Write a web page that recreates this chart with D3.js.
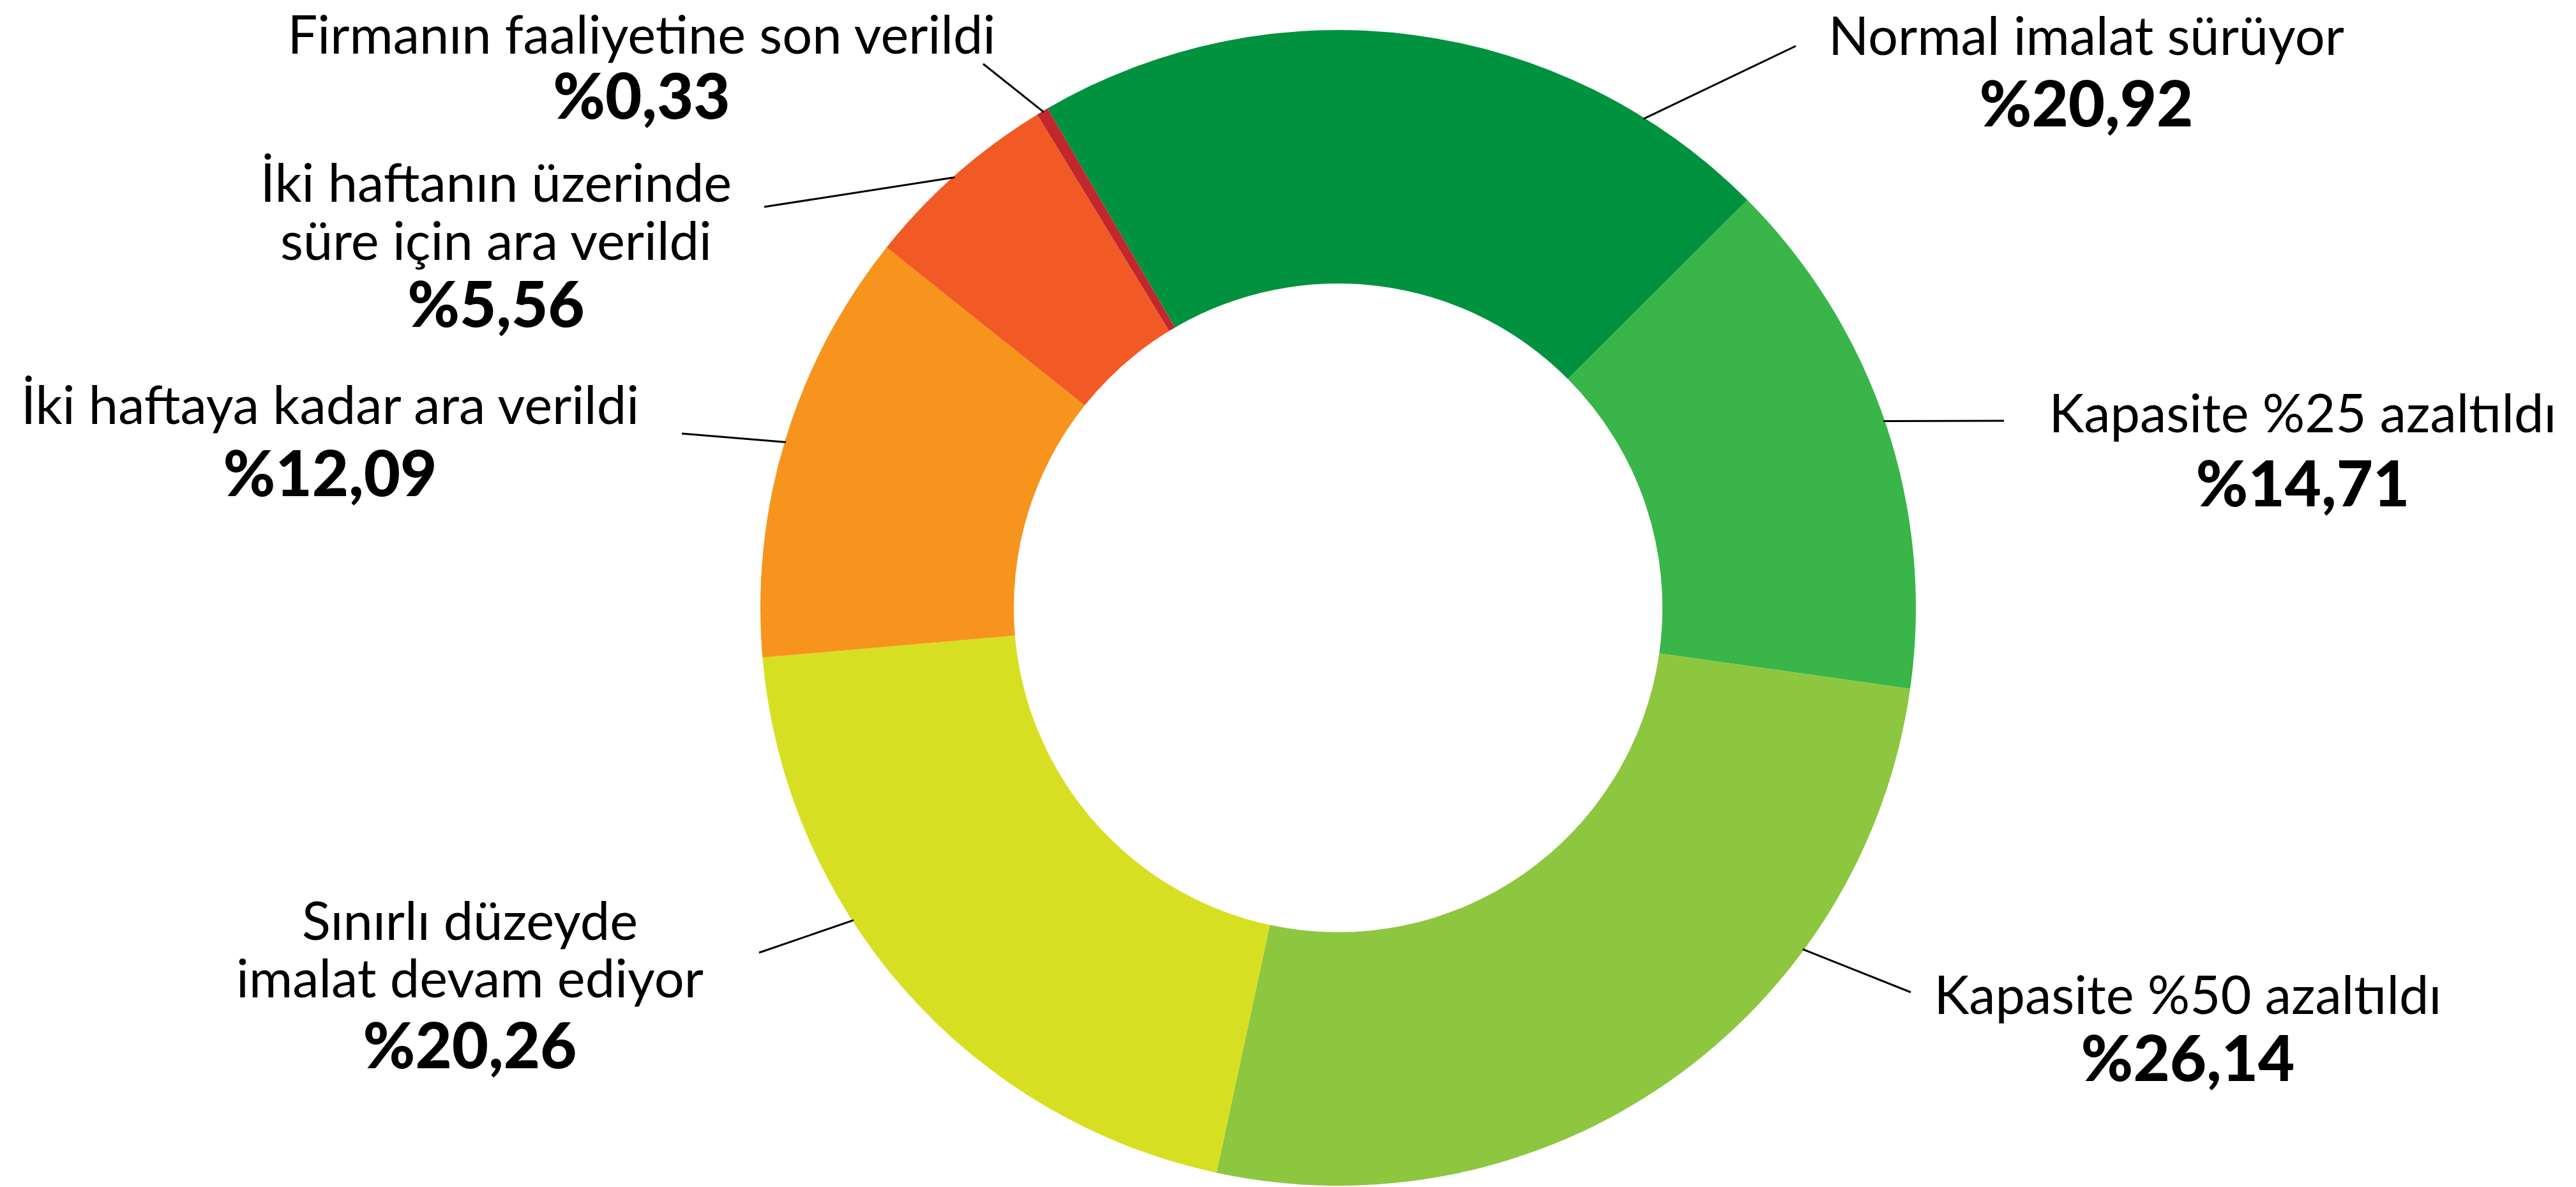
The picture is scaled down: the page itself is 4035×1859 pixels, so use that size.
<!DOCTYPE html>
<html>
<head>
<meta charset="utf-8">
<script src="https://cdn.jsdelivr.net/npm/d3@7"></script>
<style>
  html, body { margin: 0; padding: 0; background: #fff; }
  svg { display: block; }
  text { font-family: Lato, "Open Sans", sans-serif; fill: #000; }
</style>
</head>
<body>
<div id="chart"></div>
<script>
const width = 4035
const height = 1859

// data (clockwise from the top-right)
const categories = [
  "Normal imalat sürüyor",
  "Kapasite %25 azaltıldı",
  "Kapasite %50 azaltıldı",
  "Sınırlı düzeyde imalat devam ediyor",
  "İki haftaya kadar ara verildi",
  "İki haftanın üzerinde süre için ara verildi",
  "Firmanın faaliyetine son verildi",
]
const values = [20.92, 14.71, 26.14, 20.26, 12.09, 5.56, 0.33]
const colors = ["#00923f", "#39b54a", "#8dc63f", "#d7df23", "#f7941d", "#f15a24", "#c1272d"]

// label layout: text lines, anchor x, baselines, leader line (angle on the ring, outer end)
const labelLines = [
  ["Normal imalat sürüyor"],
  ["Kapasite %25 azaltıldı"],
  ["Kapasite %50 azaltıldı"],
  ["Sınırlı düzeyde", "imalat devam ediyor"],
  ["İki haftaya kadar ara verildi"],
  ["İki haftanın üzerinde", "süre için ara verildi"],
  ["Firmanın faaliyetine son verildi"],
]
const labelX = [3268, 3607, 3427, 736, 517, 777, 1005]
const labelY = [[86], [677], [1588], [1472, 1562], [664], [316, 407], [84]]
const pctY = [198, 793, 1693, 1673, 777, 512, 186]
const leaderAngle = [32.0, 71.1, 126.3, 237.2, 286.7, -41.7, -30.7]
const leaderEnd = [[2813, 72], [3139, 659], [2993, 1554], [1189, 1492], [1068, 679], [1197, 324], [1540, 100]]

const center = { x: 2096, y: 952 }
const outerR = 905
const innerR = 508
const startDeg = -30.2

const fmt = (v) => "%" + v.toFixed(2).replace(".", ",")

function drawDonut() {
  const svg = d3.select("#chart")
    .append("svg")
    .attr("width", width)
    .attr("height", height)

  const rad = (d) => d * Math.PI / 180
  const pie = d3.pie()
    .sort(null)
    .startAngle(rad(startDeg))
    .endAngle(rad(startDeg + 360))

  const arc = d3.arc().innerRadius(innerR).outerRadius(outerR)

  const ring = svg.append("g")
    .attr("transform", `translate(${center.x},${center.y})`)

  ring.selectAll("path")
    .data(pie(values))
    .enter()
    .append("path")
    .attr("d", arc)
    .style("fill", (_d, i) => colors[i])

  // leader lines
  const lines = svg.append("g").attr("id", "leaders")
  values.forEach((_v, i) => {
    const a = rad(leaderAngle[i])
    lines.append("line")
      .attr("x1", center.x + Math.sin(a) * (outerR - 2))
      .attr("y1", center.y - Math.cos(a) * (outerR - 2))
      .attr("x2", leaderEnd[i][0])
      .attr("y2", leaderEnd[i][1])
      .style("stroke", "#000")
      .style("stroke-width", "3px")
  })

  // labels
  const labels = svg.append("g").attr("id", "labels")
  values.forEach((v, i) => {
    labelLines[i].forEach((t, j) => {
      labels.append("text")
        .attr("x", labelX[i])
        .attr("y", labelY[i][j])
        .attr("text-anchor", "middle")
        .style("font-size", "83px")
        .text(t)
    })
    labels.append("text")
      .attr("x", labelX[i])
      .attr("y", pctY[i])
      .attr("text-anchor", "middle")
      .style("font-size", "99px")
      .style("font-weight", 900)
      .text(fmt(v))
  })
}

drawDonut()
</script>
</body>
</html>
